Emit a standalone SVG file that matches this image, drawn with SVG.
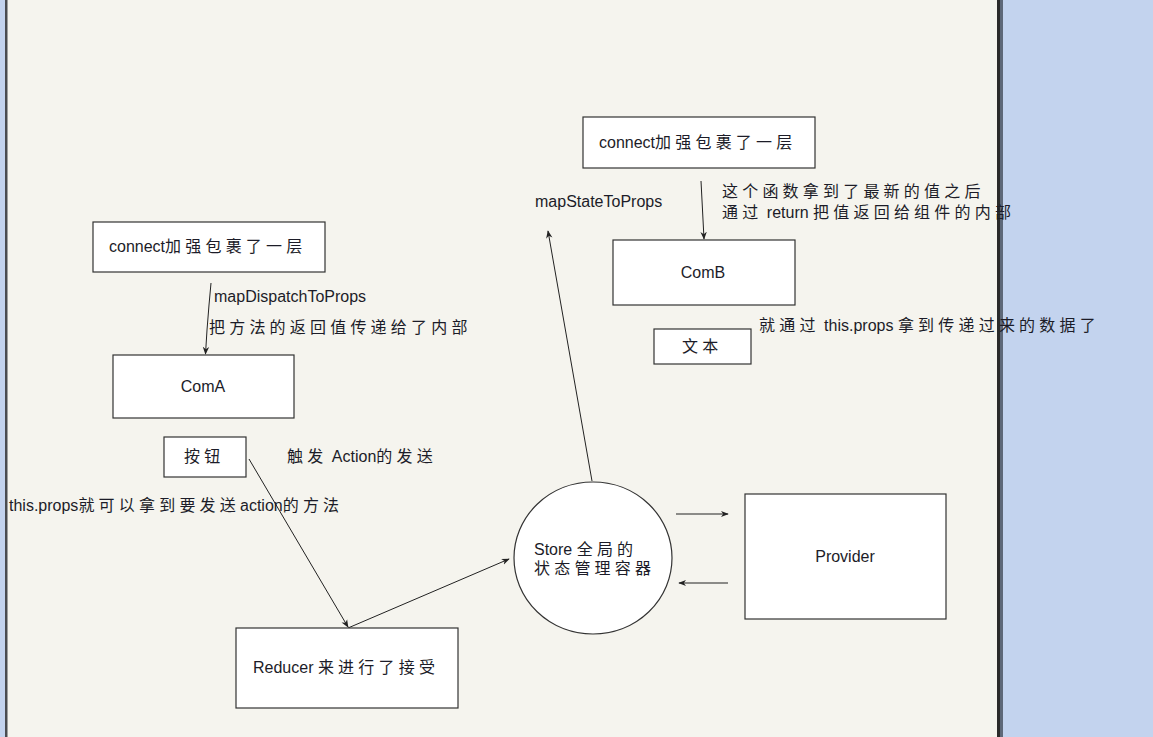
<svg xmlns="http://www.w3.org/2000/svg" width="1153" height="737" viewBox="0 0 1153 737">
<defs>
<marker id="ah" viewBox="0 0 10 10" refX="9" refY="5" markerWidth="8" markerHeight="8" markerUnits="userSpaceOnUse" orient="auto">
<path d="M0,1 L10,5 L0,9 L3,5 Z" fill="#222"/>
</marker>
<style>
.bx{fill:#fff;stroke:#333;stroke-width:1.2}
.t{font-family:"Liberation Sans","Noto Sans CJK SC",sans-serif;font-size:16px;fill:#1c1c28}
.c{font-size:16px;letter-spacing:4.2px}
.ln{fill:none;stroke:#222;stroke-width:1;marker-end:url(#ah)}
</style>
</defs>
<rect x="0" y="0" width="1153" height="737" fill="#c3d3ee"/>
<rect x="5" y="0" width="995" height="737" fill="#f5f4ee"/>
<rect x="5" y="0" width="2.5" height="737" fill="#4a4c50"/>
<rect x="997" y="0" width="3" height="737" fill="#2a2a2a"/>
<rect x="1000" y="0" width="3" height="737" fill="#5e6878"/>

<g id="connectors">
<path class="ln" d="M211 283 L209 305 L207 330 L205.5 354"/>
<path class="ln" d="M249 459 L348 627"/>
<path class="ln" d="M348 628 L509 559"/>
<path class="ln" d="M592 481 L548 231"/>
<path class="ln" d="M701 181 L704 239"/>
<path class="ln" d="M676 514 L728 514"/>
<path class="ln" d="M728 583 L679 583"/>
</g>

<g id="connectA">
<rect class="bx" x="93" y="222" width="232" height="50"/>
<text class="t" x="109" y="252">connect<tspan class="c">加强包裹了一层</tspan></text>
</g>
<g id="label-dispatch">
<text class="t" x="214" y="302">mapDispatchToProps</text>
<text class="t c" x="209" y="333">把方法的返回值传递给了内部</text>
</g>
<g id="ComA">
<rect class="bx" x="113" y="355" width="181" height="63"/>
<text class="t" x="203" y="392" text-anchor="middle">ComA</text>
</g>
<g id="button">
<rect class="bx" x="164" y="437" width="82" height="40"/>
<text class="t c" x="184" y="462">按钮</text>
</g>
<g id="label-trigger">
<text class="t" x="287" y="462"><tspan class="c">触发</tspan> Action<tspan class="c">的发送</tspan></text>
</g>
<g id="label-thisprops">
<text class="t" x="9" y="511">this.props<tspan class="c">就可以拿到要发送</tspan>action<tspan class="c">的方法</tspan></text>
</g>
<g id="Reducer">
<rect class="bx" x="236" y="628" width="222" height="80"/>
<text class="t" x="253" y="673">Reducer <tspan class="c">来进行了接受</tspan></text>
</g>
<g id="Store">
<ellipse cx="593" cy="558" rx="79" ry="76" fill="#fff" stroke="#333" stroke-width="1.2"/>
<text class="t" x="534" y="555">Store <tspan class="c">全局的</tspan></text>
<text class="t c" x="534" y="574">状态管理容器</text>
</g>
<g id="Provider">
<rect class="bx" x="745" y="494" width="201" height="125"/>
<text class="t" x="845" y="562" text-anchor="middle">Provider</text>
</g>
<g id="label-mapstate">
<text class="t" x="535" y="207">mapStateToProps</text>
</g>
<g id="connectB">
<rect class="bx" x="583" y="117" width="232" height="51"/>
<text class="t" x="599" y="148">connect<tspan class="c">加强包裹了一层</tspan></text>
</g>
<g id="label-return">
<text class="t c" x="722" y="197">这个函数拿到了最新的值之后</text>
<text class="t" x="722" y="218"><tspan class="c">通过</tspan> return <tspan class="c">把值返回给组件的内部</tspan></text>
</g>
<g id="ComB">
<rect class="bx" x="613" y="240" width="182" height="65"/>
<text class="t" x="703" y="278" text-anchor="middle">ComB</text>
</g>
<g id="textbox">
<rect class="bx" x="654" y="329" width="97" height="35"/>
<text class="t c" x="682" y="352">文本</text>
</g>
<g id="label-received">
<text class="t" x="759" y="331"><tspan class="c">就通过</tspan> this.props <tspan class="c">拿到传递过来的数据了</tspan></text>
</g>
</svg>
